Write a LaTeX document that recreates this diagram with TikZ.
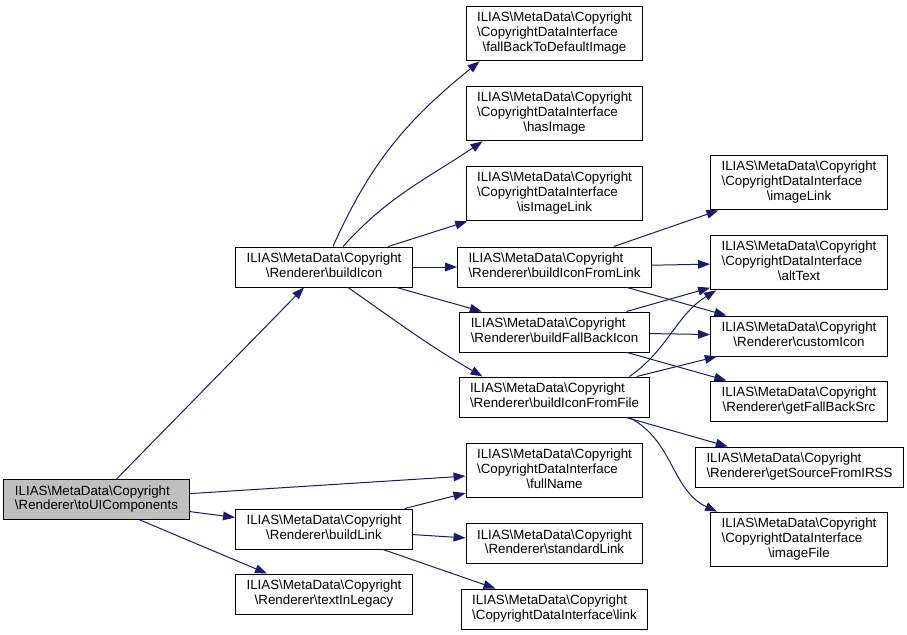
\documentclass[tikz,border=0pt]{standalone}
\usepackage{fontspec}
\setmainfont{Liberation Sans}
\usetikzlibrary{arrows.meta,calc}
\definecolor{edgeblue}{HTML}{191970}
\newcommand{\bsl}{\textbackslash}
% node texts: all lines left, last line centred
\newcommand{\rnd}[1]{\begin{tabular}{@{}l@{}}ILIAS\bsl MetaData\bsl Copyright\\\multicolumn{1}{@{}c@{}}{\bsl Renderer\bsl #1}\end{tabular}}
\newcommand{\cdi}[1]{\begin{tabular}{@{}l@{}}ILIAS\bsl MetaData\bsl Copyright\\\bsl CopyrightDataInterface\\\multicolumn{1}{@{}c@{}}{\bsl #1}\end{tabular}}
\begin{document}
\begin{tikzpicture}[x=0.75pt,y=-0.75pt,
	fn/.style={draw=black,fill=white,line width=0.75pt,inner xsep=8.25pt,inner ysep=4pt,font=\fontsize{10}{11}\selectfont},
	fnroot/.style={fn,fill=black!25},
	call/.style={draw=edgeblue,line width=0.75pt,-{Triangle[length=9pt,width=6.5pt]}}]
		\useasboundingbox (0,0) rectangle (907,635);
		% first and second column
		\node[fnroot] (ui) at (96.5,499.5) {\rnd{toUIComponents}};
		\node[fn] (buildicon) at (324,267) {\rnd{buildIcon}};
		\node[fn] (buildlink) at (324,529) {\rnd{buildLink}};
		\node[fn] (legacy) at (324,594) {\rnd{textInLegacy}};
		% third column
		\node[fn] (fallback) at (554.5,33.5) {\cdi{fallBackToDefaultImage}};
		\node[fn] (hasimage) at (554.5,113.5) {\cdi{hasImage}};
		\node[fn] (isimagelink) at (554.5,193.5) {\cdi{isImageLink}};
		\node[fn] (fromlink) at (554.5,267) {\rnd{buildIconFromLink}};
		\node[fn] (fallbackicon) at (554.5,332) {\rnd{buildFallBackIcon}};
		\node[fn] (fromfile) at (554.5,397) {\rnd{buildIconFromFile}};
		\node[fn] (fullname) at (554.5,470.5) {\cdi{fullName}};
		\node[fn] (standardlink) at (554.5,543.5) {\rnd{standardLink}};
		\node[fn] (link) at (554.5,609) {\begin{tabular}{@{}l@{}}ILIAS\bsl MetaData\bsl Copyright\\\multicolumn{1}{@{}c@{}}{\bsl CopyrightDataInterface\bsl link}\end{tabular}};
		% fourth column
		\node[fn] (imagelink) at (799,182.5) {\cdi{imageLink}};
		\node[fn] (alttext) at (799,262.5) {\cdi{altText}};
		\node[fn] (customicon) at (799,336) {\rnd{customIcon}};
		\node[fn] (fallbacksrc) at (799,401) {\rnd{getFallBackSrc}};
		\node[fn] (irss) at (799.5,467) {\rnd{getSourceFromIRSS}};
		\node[fn] (imagefile) at (799,539.5) {\cdi{imageFile}};
		% calls
		\draw[call] (ui) -- (buildicon);
		\draw[call] (ui) -- (fullname);
		\draw[call] (ui) -- (buildlink);
		\draw[call] ($(ui.south)+(43.5,0)$) -- ($(legacy.north)+(-57,0)$);
		\draw[call] ($(buildicon.north)+(9,0)$) to[out=66,in=219] ($(fallback.south west)+(14,0)$);
		\draw[call] ($(buildicon.north)+(19,0)$) to[out=48,in=214] ($(hasimage.south west)+(17,0)$);
		\draw[call] (buildicon) -- (isimagelink);
		\draw[call] (buildicon) -- (fromlink);
		\draw[call] (buildicon) -- (fallbackicon);
		\draw[call] ($(buildicon.south)+(24,0)$) to[out=-35,in=150] ($(fromfile.north west)+(24,0)$);
		\draw[call] (fromlink) -- (imagelink);
		\draw[call] (fromlink) -- (alttext);
		\draw[call] (fromlink) -- (customicon);
		\draw[call] (fallbackicon) -- (alttext);
		\draw[call] (fallbackicon) -- (customicon);
		\draw[call] (fallbackicon) -- (fallbacksrc);
		\draw[call] ($(fromfile.north east)+(-21,0)$) to[out=35,in=212] ($(alttext.south west)+(6,0)$);
		\draw[call] (fromfile) -- (customicon);
		\draw[call] (fromfile) -- (irss);
		\draw[call] ($(fromfile.south east)+(-21,0)$) to[out=-28,in=155] ($(imagefile.north west)+(7,0)$);
		\draw[call] (buildlink) -- (fullname);
		\draw[call] (buildlink) -- (standardlink);
		\draw[call] (buildlink) -- (link);
	\end{tikzpicture}
\end{document}
